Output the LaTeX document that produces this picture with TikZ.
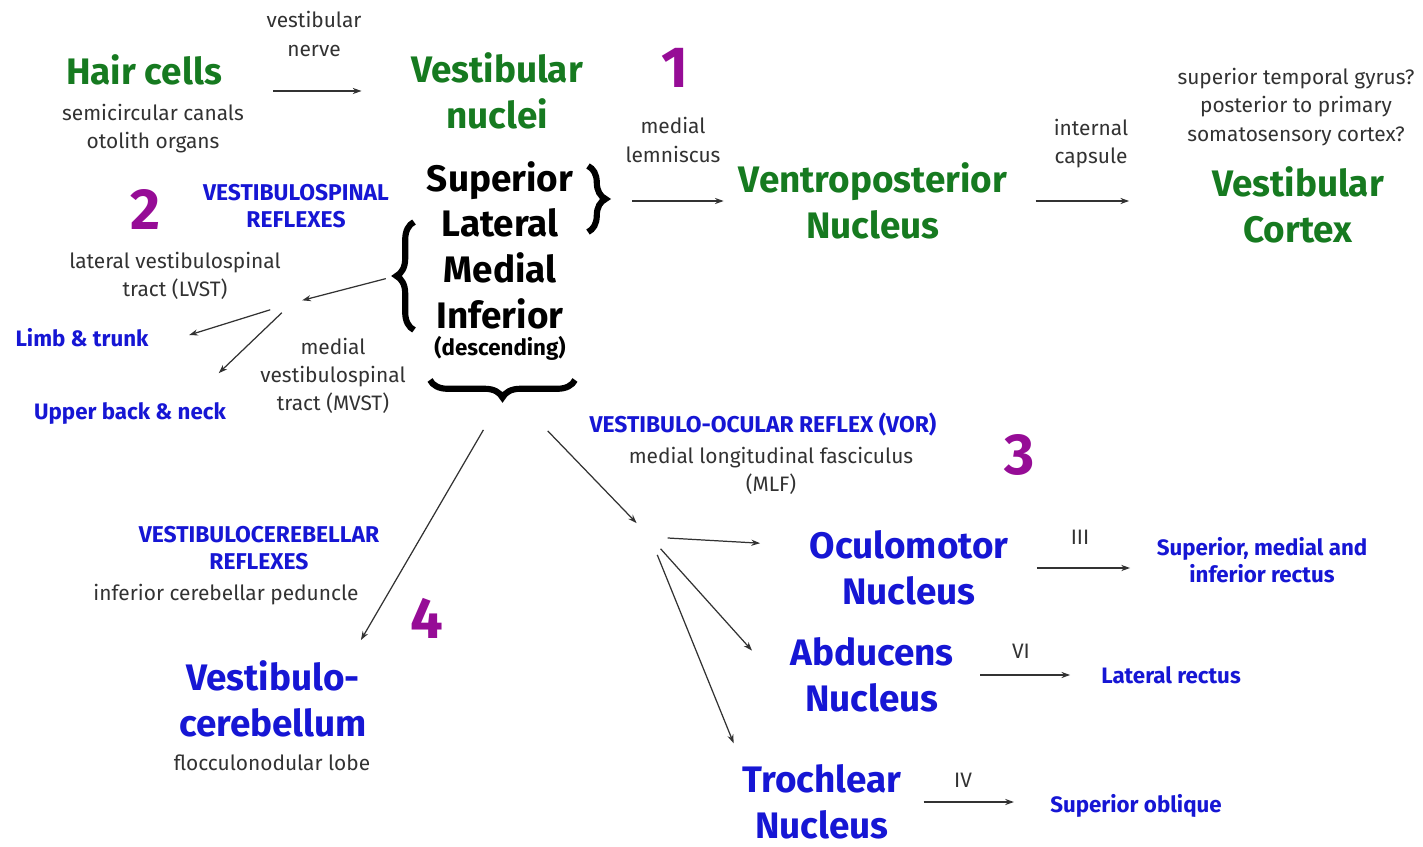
\documentclass[tikz,border=0pt]{standalone}
\usepackage{fontspec}
\setmainfont{Fira Sans}
\usepackage{xcolor}
\usetikzlibrary{arrows.meta, positioning, calc, decorations.pathreplacing}
\definecolor{vgreen}{RGB}{22,122,32}
\definecolor{vblue}{RGB}{22,22,212}
\definecolor{vpurple}{RGB}{150,12,150}
\definecolor{vgray}{RGB}{50,50,50}

\begin{document}
\begin{tikzpicture}[
    x=0.02cm, y=-0.02cm,
    gbig/.style={font=\fontsize{21}{26}\selectfont\bfseries, text=vgreen, align=center, inner sep=0pt},
    bbig/.style={gbig, text=vblue},
    kbig/.style={gbig, text=black},
    note/.style={font=\fontsize{11.9}{16}\selectfont, text=vgray, align=center, inner sep=0pt},
    caps/.style={font=\fontsize{13}{15.5}\selectfont\bfseries, text=vblue, align=center, inner sep=0pt},
    muscle/.style={font=\fontsize{12.7}{15.5}\selectfont\bfseries, text=vblue, align=center, inner sep=0pt},
    num/.style={font=\fontsize{33}{40}\selectfont\bfseries, text=vpurple, inner sep=0pt},
    arr/.style={-{Stealth[length=5pt, width=3.5pt]}, line width=0.7pt, draw=vgray},
    brc/.style={decorate, decoration={brace, amplitude=10pt}, line width=3.5pt},
  ]
  \useasboundingbox (0,0) rectangle (1423,847);

  % input side
  \node[gbig] (hair) at (144,70) {Hair cells};
  \node[note] (hairsub) at (153,129) {semicircular canals\\otolith organs};
  \node[note] (vnerve) at (314,34) {vestibular\\nerve};
  \node[gbig] (vnuc) at (497,91) {Vestibular\\nuclei};
  \node[kbig] (sub) at (500,245) {Superior\\Lateral\\Medial\\Inferior};
  \node[font=\fontsize{12.7}{14}\selectfont\bfseries, inner sep=0pt] (desc) at (500,348) {(descending)};

  % braces round the four nuclei
  \draw[brc] (588,166) -- (588,232);
  \draw[brc] (414,330) -- (414,222);
  \draw[brc] (575,380) -- (430,380);
  \coordinate (rb) at (606,199);
  \coordinate (lb) at (396,276);
  \coordinate (bb) at (502,398);

  % 1: ascending pathway
  \node[num] (n1) at (675,68) {1};
  \node[note] (mlem) at (673,140) {medial\\lemniscus};
  \node[gbig] (vpn) at (873,201) {Ventroposterior\\Nucleus};
  \node[note] (icap) at (1091,144) {internal\\capsule};
  \node[note] (stg) at (1296,107) {superior temporal gyrus?\\posterior to primary\\somatosensory cortex?};
  \node[gbig] (vcx) at (1298,205) {Vestibular\\Cortex};

  % 2: vestibulospinal
  \node[num] (n2) at (145,210) {2};
  \node[caps] (vsr) at (296,206) {VESTIBULOSPINAL\\REFLEXES};
  \node[note] (lvst) at (175,276) {lateral vestibulospinal\\tract (LVST)};
  \node[muscle] (limb) at (82,338) {Limb \& trunk};
  \node[muscle] (upback) at (130,414) {Upper back \& neck};
  \node[note] (mvst) at (333,376) {medial\\vestibulospinal\\tract (MVST)};
  \coordinate (vsb) at (292,303);

  % 3: vestibulo-ocular
  \node[num] (n3) at (1020,455) {3};
  \node[caps] (vor) at (763,425) {VESTIBULO-OCULAR REFLEX (VOR)};
  \node[note] (mlf) at (771,471) {medial longitudinal fasciculus\\(MLF)};
  \node[bbig] (ocu) at (909,568) {Oculomotor\\Nucleus};
  \node[bbig] (abd) at (872,675) {Abducens\\Nucleus};
  \node[bbig] (tro) at (822,802) {Trochlear\\Nucleus};
  \node[muscle] (sir) at (1262,560) {Superior, medial and\\inferior rectus};
  \node[muscle] (lrec) at (1171,675) {Lateral rectus};
  \node[muscle] (sobl) at (1136,806) {Superior oblique};
  \node[note] (cn3) at (1080,537) {III};
  \node[note] (cn6) at (1021,651) {VI};
  \node[note] (cn4) at (963,780) {IV};
  \coordinate (vob) at (650,537);

  % 4: vestibulocerebellar
  \node[num] (n4) at (427,618) {4};
  \node[caps] (vcr) at (259,548) {VESTIBULOCEREBELLAR\\REFLEXES};
  \node[note] (icp) at (226,595) {inferior cerebellar peduncle};
  \node[bbig] (cbl) at (273,699) {Vestibulo-\\cerebellum};
  \node[note] (flob) at (272,763) {flocculonodular lobe};

  \draw[arr, shorten <=29pt, shorten >=28pt] (hair.east |- vnuc.west) -- (vnuc.west);
  \draw[arr, shorten <=15pt, shorten >=8.5pt] (rb |- vpn.west) -- (vpn.west);
  \draw[arr, shorten <=16pt, shorten >=47pt] (vpn.east) -- (vpn.east -| vcx.west);

  \draw[arr, shorten <=6pt, shorten >=6pt] (lb) -- (vsb);
  \draw[arr, shorten <=13pt, shorten >=24pt] (vsb) -- (limb.south east);
  \draw[arr, shorten <=8pt, shorten >=21pt] (vsb) -- ($(upback.north)+(62,-4)$);

  \draw[arr, shorten <=21pt, shorten >=13.5pt] (bb) -- ($(cbl.north)+(76,0)$);
  \draw[arr, shorten <=26pt, shorten >=11pt] ($(bb)+(14,0)$) -- (vob);
  \draw[arr, shorten <=10pt, shorten >=28pt] (vob) -- ($(ocu.west)+(0,-22)$);
  \draw[arr, shorten <=9pt, shorten >=11pt] (vob) -- ($(abd.west)+(-25,-10)$);
  \draw[arr, shorten <=11pt, shorten >=13pt] (vob) -- (tro.north west);

  \draw[arr, shorten <=16pt, shorten >=15pt] (ocu.east) -- (ocu.east -| sir.west);
  \draw[arr, shorten <=15pt, shorten >=17.5pt] (abd.east) -- (abd.east -| lrec.west);
  \draw[arr, shorten <=12.5pt, shorten >=20.5pt] (tro.east) -- (tro.east -| sobl.west);
\end{tikzpicture}
\end{document}
